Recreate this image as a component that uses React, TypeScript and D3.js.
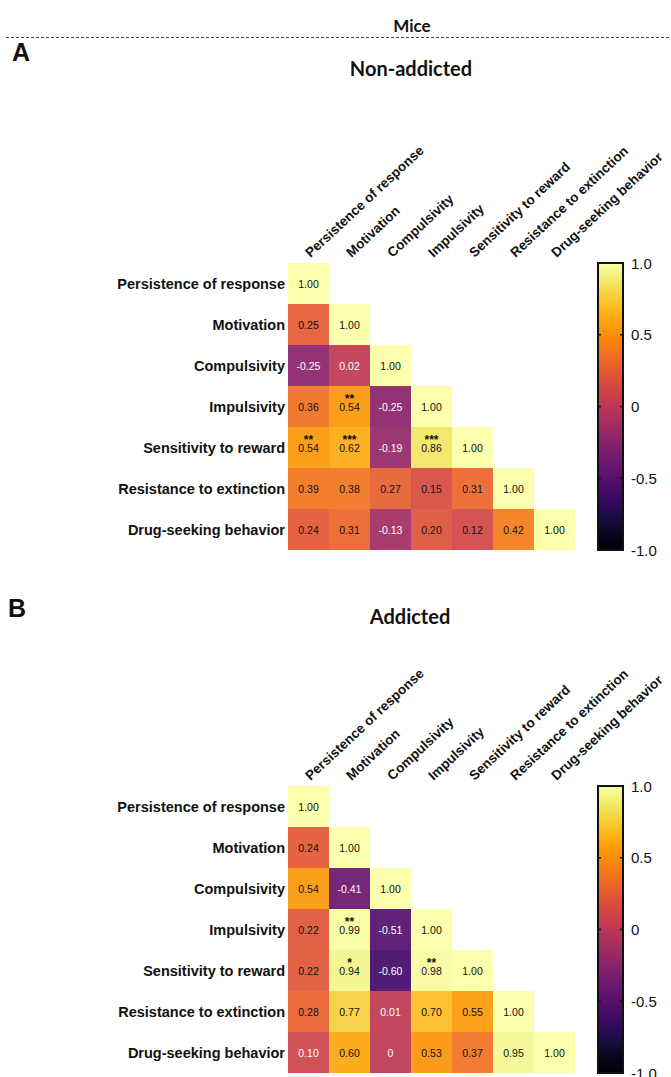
import React from "react";
import * as d3 from "d3";

const W = 671;
const H = 1077;

const traits = [
  "Persistence of response",
  "Motivation",
  "Compulsivity",
  "Impulsivity",
  "Sensitivity to reward",
  "Resistance to extinction",
  "Drug-seeking behavior",
];

// lower triangle, row by row
const nonAddicted = [
  [1.0],
  [0.25, 1.0],
  [-0.25, 0.02, 1.0],
  [0.36, 0.54, -0.25, 1.0],
  [0.54, 0.62, -0.19, 0.86, 1.0],
  [0.39, 0.38, 0.27, 0.15, 0.31, 1.0],
  [0.24, 0.31, -0.13, 0.2, 0.12, 0.42, 1.0],
];
const nonAddictedStars = [
  [""],
  ["", ""],
  ["", "", ""],
  ["", "**", "", ""],
  ["**", "***", "", "***", ""],
  ["", "", "", "", "", ""],
  ["", "", "", "", "", "", ""],
];

const addicted = [
  [1.0],
  [0.24, 1.0],
  [0.54, -0.41, 1.0],
  [0.22, 0.99, -0.51, 1.0],
  [0.22, 0.94, -0.6, 0.98, 1.0],
  [0.28, 0.77, 0.01, 0.7, 0.55, 1.0],
  [0.1, 0.6, 0, 0.53, 0.37, 0.95, 1.0],
];
const addictedStars = [
  [""],
  ["", ""],
  ["", "", ""],
  ["", "**", "", ""],
  ["", "*", "", "**", ""],
  ["", "", "", "", "", ""],
  ["", "", "", "", "", "", ""],
];

const colorTicks = [1, 0.5, 0, -0.5, -1];

const color = d3.scaleSequential(d3.interpolateInferno).domain([-1, 1]);
const fmt = (v: number) => (v === 0 ? "0" : v.toFixed(2));
const tickFmt = (v: number) => (v === 0 ? "0" : v.toFixed(1));

const matLeft = 288;
const cell = 41;
const barX = 598;
const barW = 25;

function Panel({ top, values, stars, gid }: any) {
  const x = d3
    .scaleBand<string>()
    .domain(traits)
    .range([matLeft, matLeft + cell * traits.length]);
  const y = d3
    .scaleBand<string>()
    .domain(traits)
    .range([top, top + cell * traits.length]);
  const bar = d3.scaleLinear().domain([-1, 1]).range([y.range()[1], top]);
  const stops = d3.range(0, 1.0001, 0.05);

  return (
    <g>
      <defs>
        <linearGradient id={gid} x1="0" y1="1" x2="0" y2="0">
          {stops.map((t) => (
            <stop key={t} offset={t} stopColor={d3.interpolateInferno(t)} />
          ))}
        </linearGradient>
      </defs>
      {values.map((row: number[], i: number) =>
        row.map((v, j) => {
          const cx = x(traits[j])! + cell / 2;
          const cy = y(traits[i])! + cell / 2;
          const txt = v <= 0.1 ? "#fff" : "#111";
          const s = stars[i][j];
          return (
            <g key={i + "-" + j}>
              <rect
                x={x(traits[j])}
                y={y(traits[i])}
                width={cell}
                height={cell}
                fill={color(v)}
                fillOpacity={0.92}
              />
              {s && (
                <text
                  x={cx}
                  y={cy - 3.5}
                  textAnchor="middle"
                  fontSize={12}
                  fontWeight="bold"
                  fill="#111"
                >
                  {s}
                </text>
              )}
              <text
                x={cx}
                y={cy + 4}
                textAnchor="middle"
                fontSize={10.5}
                fill={txt}
              >
                {fmt(v)}
              </text>
            </g>
          );
        })
      )}
      {traits.map((t) => (
        <text
          key={"r" + t}
          x={matLeft - 3}
          y={y(t)! + cell / 2 + 5}
          textAnchor="end"
          fontSize={14.5}
          fontWeight="bold"
          fill="#111"
        >
          {t}
        </text>
      ))}
      {traits.map((t) => (
        <text
          key={"c" + t}
          transform={`translate(${x(t)! + cell / 2 + 2},${top - 5}) rotate(-43)`}
          fontSize={13.5}
          fontWeight="bold"
          fill="#111"
        >
          {t}
        </text>
      ))}
      <rect
        x={barX}
        y={top}
        width={barW}
        height={cell * traits.length}
        fill={`url(#${gid})`}
        stroke="#111"
        strokeWidth={2}
      />
      {colorTicks.map((v) => (
        <g key={"t" + v}>
          {v !== 1 && v !== -1 && (
            <>
              <line x1={barX} x2={barX + 3} y1={bar(v)} y2={bar(v)} stroke="#111" strokeWidth={1.5} />
              <line x1={barX + barW - 3} x2={barX + barW} y1={bar(v)} y2={bar(v)} stroke="#111" strokeWidth={1.5} />
            </>
          )}
          <text x={barX + 33} y={bar(v) + 5.5} fontSize={15} fill="#111">
            {tickFmt(v)}
          </text>
        </g>
      ))}
    </g>
  );
}

export default function App() {
  return (
    <svg
      width={W}
      height={H}
      viewBox={`0 0 ${W} ${H}`}
      style={{ position: "absolute", left: 0, top: 0, background: "#fff", fontFamily: "Liberation Sans, Arial, sans-serif" }}
    >
      <text x={412} y={32} textAnchor="middle" fontSize={17} fontWeight="bold" fontFamily="Lato, sans-serif" fill="#111">
        Mice
      </text>
      <line x1={6} x2={W} y1={37.5} y2={37.5} stroke="#444" strokeDasharray="3,2" strokeWidth={1} />
      <text x={12} y={61} fontSize={25} fontWeight="bold" fill="#111">A</text>
      <text x={411} y={76} textAnchor="middle" fontSize={20} fontWeight="bold" fontFamily="Lato, sans-serif" fill="#111">
        Non-addicted
      </text>
      <Panel top={263} values={nonAddicted} stars={nonAddictedStars} gid="gA" />
      <text x={8} y={617} fontSize={25} fontWeight="bold" fill="#111">B</text>
      <text x={410} y={624} textAnchor="middle" fontSize={20} fontWeight="bold" fontFamily="Lato, sans-serif" fill="#111">
        Addicted
      </text>
      <Panel top={786} values={addicted} stars={addictedStars} gid="gB" />
    </svg>
  );
}
